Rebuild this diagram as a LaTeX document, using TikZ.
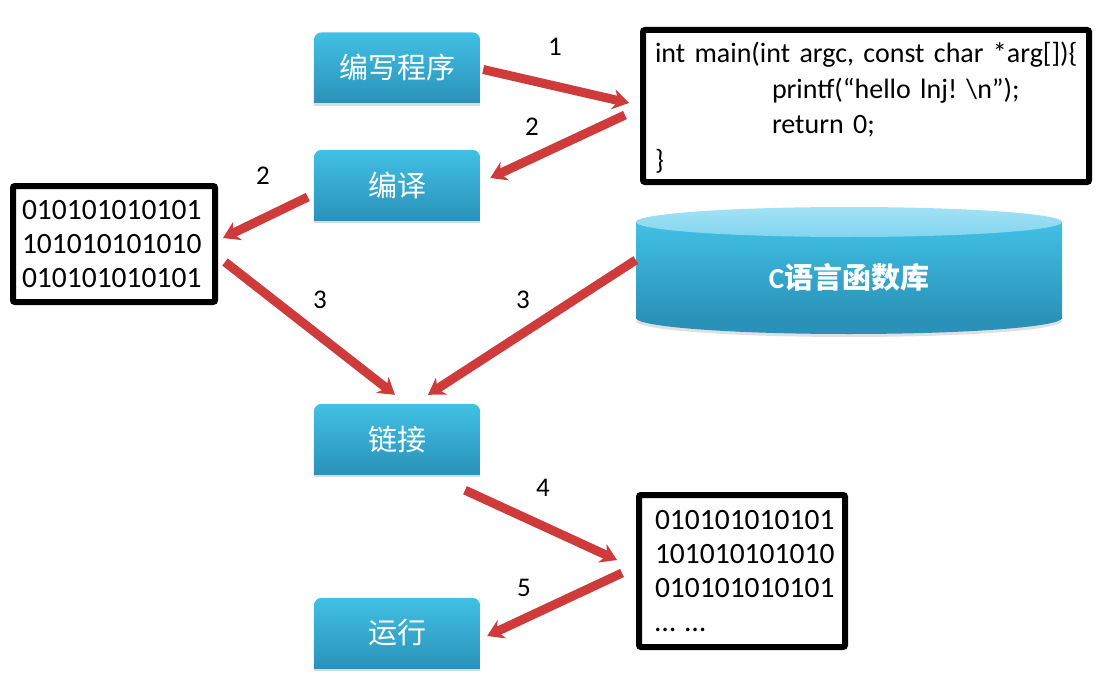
\documentclass[tikz,border=0pt]{standalone}
\usepackage{fontspec}
\setmainfont{Carlito}
\newfontfamily\cjk{Noto Sans CJK SC}
\usetikzlibrary{arrows.meta,backgrounds}
\definecolor{boxtop}{HTML}{42C0E5}
\definecolor{boxbot}{HTML}{2A92B8}
\definecolor{cyltop}{HTML}{A2E2F5}
\definecolor{cyltopb}{HTML}{82D5EF}
\definecolor{arr}{HTML}{CF3B3B}
\newcommand\bluebg[1]{%
  \fill[black!14] ([yshift=1pt]#1.south west) rectangle ([yshift=-3pt]#1.south east);
  \begin{scope}
    \clip[rounded corners=8pt] (#1.north west) rectangle ([yshift=-20pt]#1.south east);
    \shade[top color=boxtop,bottom color=boxbot] (#1.north west) rectangle (#1.south east);
  \end{scope}}
\begin{document}
\frenchspacing
\begin{tikzpicture}[x=1pt,y=-1pt,
  stepbox/.style={minimum width=166pt, minimum height=70pt, inner sep=0pt, text=white,
    font=\cjk\fontsize{29}{31}\selectfont},
  blackbox/.style={draw=black, line width=6pt, rounded corners=2pt, fill=white,
    inner ysep=0pt, align=left, font=\fontsize{29.5}{34}\selectfont},
  redarrow/.style={draw=arr, line width=9pt, -{Stealth[length=16pt,width=20pt,inset=5pt]}},
  num/.style={font=\fontsize{27}{29}\selectfont, inner sep=0pt}
]
\useasboundingbox (0,0) rectangle (1110,690);

% blue step boxes
\node[stepbox] (prog) at (397,67.5) {编写程序};
\node[stepbox] (comp) at (397,185) {编译};
\node[stepbox] (link) at (397,439) {链接};
\node[stepbox] (run)  at (397,633) {运行};
\begin{pgfonlayer}{background}
  \bluebg{prog}\bluebg{comp}\bluebg{link}\bluebg{run}
\end{pgfonlayer}

% source code box
\node[blackbox, minimum width=446pt, minimum height=152pt, text width=422pt, inner xsep=12pt,
  font=\fontsize{28}{35.5}\selectfont] (code) at (866,106)
  {\rule{0pt}{24pt}\mbox{int main(int argc, const char *arg[])\{}\\
   \hspace*{117pt}\mbox{printf(“hello lnj! \textbackslash n”);}\\
   \hspace*{117pt}return 0;\\
   \}};

% binary boxes
\node[blackbox, minimum width=202pt, minimum height=116pt, text width=184pt, inner xsep=9pt] (bin1) at (114,244)
  {010101010101\\101010101010\\010101010101};
\node[blackbox, minimum width=206pt, minimum height=152pt, text width=174pt, inner xsep=16pt] (bin2) at (742,571)
  {010101010101\\101010101010\\010101010101\\… …};

% library cylinder
\fill[black!12] (849,321) ellipse[x radius=213pt, y radius=16pt];
\fill[boxbot] (849,318) ellipse[x radius=213pt, y radius=16pt];
\shade[top color=boxtop,bottom color=boxbot] (636,222) rectangle (1062,318);
\shade[top color=cyltop,bottom color=cyltopb] (849,222) ellipse[x radius=213pt, y radius=15pt];
\node[minimum width=426pt, minimum height=110pt, inner sep=0pt, text=white,
  font=\fontsize{29}{31}\selectfont\bfseries] (cyl) at (849,277) {C{\cjk\bfseries 语言函数库}};

% arrows
\draw[redarrow] ([shift={(3,2)}]prog.east) -- ([shift={(-11,-3)}]code.west);
\draw[redarrow] ([shift={(-15,9)}]code.west) -- ([shift={(10,-7)}]comp.east);
\draw[redarrow] ([shift={(-6,12)}]comp.west) -- ([shift={(5,-6)}]bin1.east);
\draw[redarrow] ([shift={(7,18)}]bin1.east) -- ([shift={(-2,-9)}]link.north);
\draw[redarrow] ([shift={(0,-17)}]cyl.west) -- ([shift={(31,-9)}]link.north);
\draw[redarrow] ([shift={(68,16)}]link.south) -- ([shift={(-19,-11)}]bin2.west);
\draw[redarrow] ([shift={(-14,2)}]bin2.west) -- ([shift={(7,3)}]run.east);

% step numbers
\node[num] (n1) at (555,47) {1};
\node[num] (n2a) at (532,127) {2};
\node[num] (n2b) at (263,176) {2};
\node[num] (n3a) at (320,300) {3};
\node[num] (n3b) at (523,300) {3};
\node[num] (n4) at (543,488) {4};
\node[num] (n5) at (524,588) {5};
\end{tikzpicture}
\end{document}
